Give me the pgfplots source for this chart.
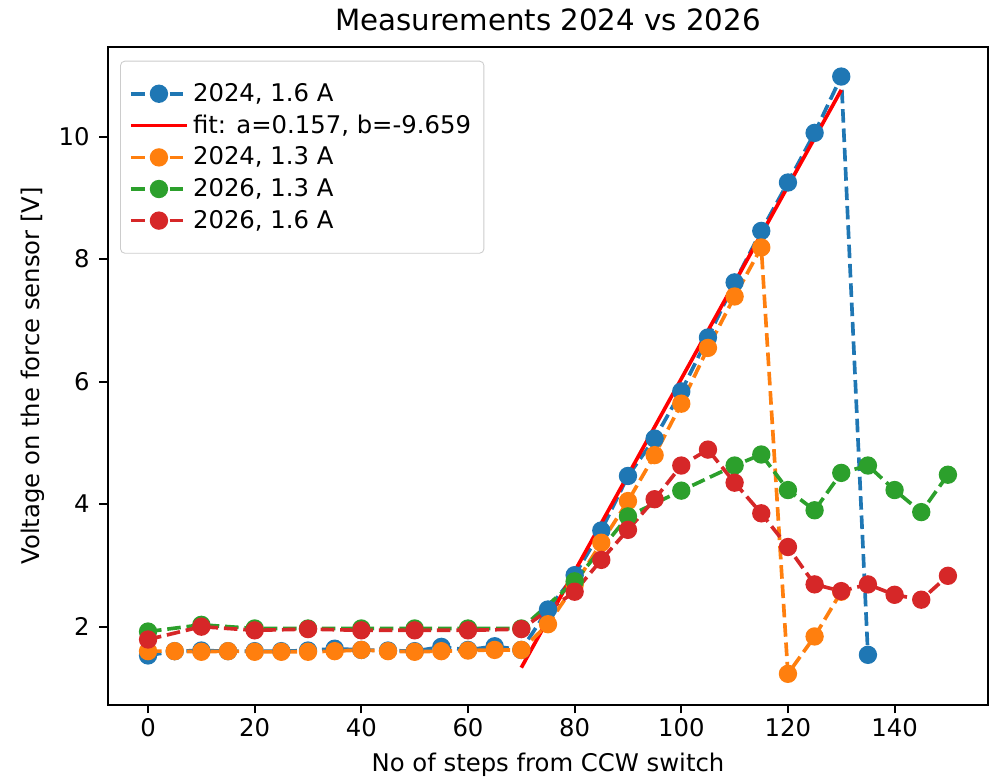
\documentclass[border=0pt]{standalone}
\usepackage{pgfplots}
\pgfplotsset{compat=1.18}
\usepackage{fontspec}
\setmainfont{DejaVu Sans}
\definecolor{c0}{HTML}{1F77B4}
\definecolor{c1}{HTML}{FF7F0E}
\definecolor{c2}{HTML}{2CA02C}
\definecolor{c3}{HTML}{D62728}
\begin{document}
\begin{tikzpicture}
\begin{axis}[
  scale only axis,
  width=408.8pt, height=305.6pt,
  xmin=-7.5, xmax=157.5,
  ymin=0.7265, ymax=11.4635,
  xtick={0,20,40,60,80,100,120,140},
  ytick={2,4,6,8,10},
  tick pos=left,
  tick align=outside,
  major tick length=4pt,
  every tick/.style={black, line width=0.9pt},
  axis line style={line width=0.9pt},
  /pgf/number format/assume math mode=true,
  tick label style={font=\fontsize{11.3}{13.5}\selectfont},
  xticklabel style={yshift=1pt},
  yticklabel style={xshift=-1pt},
  label style={font=\fontsize{11.3}{13.5}\selectfont},
  every axis title shift=0pt,
  title style={font=\fontsize{13.6}{16}\selectfont, at={(axis description cs:0.5,1.041)}, anchor=center},
  title={Measurements 2024 vs 2026},
  xlabel={No of steps from CCW switch},
  ylabel={Voltage on the force sensor [V]},
  xlabel style={at={(axis description cs:0.5,-0.0913)}, anchor=center},
  ylabel style={at={(axis description cs:-0.085,0.5)}, anchor=center},
  legend style={at={(0.0137,0.979)}, anchor=north west, font=\fontsize{11.3}{13.5}\selectfont,
    draw=black!20, rounded corners=2pt, inner xsep=4pt, inner ysep=8.2pt,
    row sep=0.8pt},
  legend cell align=left,
  legend image code/.code={\draw[mark repeat=2,mark phase=2] plot coordinates {(0pt,0pt) (13pt,0pt) (26pt,0pt)};},
  every axis plot/.append style={line width=1.7pt},
]
\addplot[c0, dash pattern=on 6.3pt off 2.7pt, mark=*, mark size=3.4pt, mark options={solid, fill=c0, draw=c0}] coordinates {
(0,1.53) (5,1.60) (10,1.61) (15,1.60) (20,1.60) (25,1.60) (30,1.61) (35,1.64) (40,1.62) (45,1.61)
(50,1.60) (55,1.67) (60,1.62) (65,1.68) (70,1.62) (75,2.28) (80,2.84) (85,3.57) (90,4.46) (95,5.07)
(100,5.84) (105,6.72) (110,7.62) (115,8.46) (120,9.25) (125,10.06) (130,10.98) (135,1.54)
};
\addlegendentry{2024, 1.6 A}
\addplot[color={rgb,255:red,255;green,0;blue,0}, solid, no marks] coordinates {(70,1.331) (130,10.761)};
\addlegendentry{fit: a=0.157, b=-9.659}
\addplot[c1, dash pattern=on 6.3pt off 2.7pt, mark=*, mark size=3.4pt, mark options={solid, fill=c1, draw=c1}] coordinates {
(0,1.60) (5,1.60) (10,1.59) (15,1.60) (20,1.59) (25,1.59) (30,1.59) (35,1.60) (40,1.62) (45,1.60)
(50,1.59) (55,1.60) (60,1.61) (65,1.62) (70,1.62) (75,2.04) (80,2.68) (85,3.37) (90,4.05) (95,4.80)
(100,5.64) (105,6.55) (110,7.39) (115,8.19) (120,1.23) (125,1.84) (130,2.57)
};
\addlegendentry{2024, 1.3 A}
\addplot[c2, dash pattern=on 6.3pt off 2.7pt, mark=*, mark size=3.4pt, mark options={solid, fill=c2, draw=c2}] coordinates {
(0,1.92) (10,2.03) (20,1.97) (30,1.97) (40,1.97) (50,1.97) (60,1.97) (70,1.97) (80,2.74) (90,3.80)
(100,4.22) (110,4.63) (115,4.81) (120,4.23) (125,3.90) (130,4.51) (135,4.63) (140,4.23) (145,3.87) (150,4.48)
};
\addlegendentry{2026, 1.3 A}
\addplot[c3, dash pattern=on 6.3pt off 2.7pt, mark=*, mark size=3.4pt, mark options={solid, fill=c3, draw=c3}] coordinates {
(0,1.79) (10,2.00) (20,1.94) (30,1.96) (40,1.94) (50,1.94) (60,1.94) (70,1.96) (80,2.57) (85,3.09)
(90,3.58) (95,4.08) (100,4.63) (105,4.89) (110,4.35) (115,3.85) (120,3.30) (125,2.69) (130,2.58)
(135,2.69) (140,2.52) (145,2.44) (150,2.83)
};
\addlegendentry{2026, 1.6 A}
\end{axis}
\pgfresetboundingbox
\path[use as bounding box] ([shift={(-50.2pt,-34.4pt)}]current axis.south west) rectangle ([shift={(1.9pt,21.8pt)}]current axis.north east);
\end{tikzpicture}
\end{document}
